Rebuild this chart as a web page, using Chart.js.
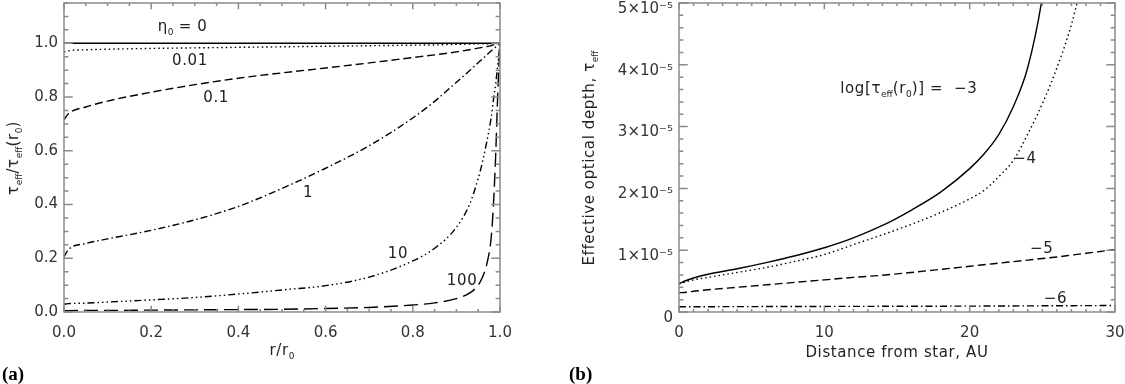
<!DOCTYPE html>
<html>
<head>
  <script src="https://cdn.jsdelivr.net/npm/chart.js"></script>
  <style>
    body { margin: 0; background: #fff; }
    #wrap { position: relative; width: 1125px; height: 384px; overflow: hidden; }
    canvas { position: absolute; top: 0; }
    .lbl { position: absolute; font: 15px 'DejaVu Sans', sans-serif; color: #222; white-space: nowrap;
           letter-spacing: 0.6px; transform: translate(-50%, -50%); line-height: 1; }
    .lbl.left { transform: translate(0, -50%); }
    .lbl.rot { transform: translate(-50%, -50%) rotate(-90deg); }
    .lbl sub { font-size: 0.6em; vertical-align: -0.45em; letter-spacing: 0; }
    .panel { position: absolute; font: bold 19px 'Liberation Serif', serif; color: #000; }
  </style>
</head>
<body>
<div id="wrap">
  <canvas id="chartA" width="560" height="384" style="left:0"></canvas>
  <canvas id="chartB" width="565" height="384" style="left:560px"></canvas>
  <div class="panel" style="left:2px; top:363px">(a)</div>
  <div class="panel" style="left:569px; top:363px">(b)</div>
</div>
<script>
  // panel (a): tau_eff / tau_eff(r0) against r/r0
  const rGrid = [0, 0.01, 0.05, 0.1, 0.2, 0.3, 0.4, 0.5, 0.6, 0.7, 0.8, 0.85, 0.9, 0.93, 0.95, 0.96, 0.97, 0.98, 0.985, 0.99, 0.995, 1.0];
  const eta0   = [1, 1, 1, 1, 1, 1, 1, 1, 1, 1, 1, 1, 1, 1, 1, 1, 1, 1, 1, 1, 1, 1];
  const eta001 = [0.967, 0.972, 0.976, 0.978, 0.981, 0.983, 0.985, 0.987, 0.989, 0.991, 0.993, 0.994, 0.996, 0.997, 0.998, 0.998, 0.998, 0.999, 0.999, 0.999, 1.0, 1.0];
  const eta01  = [0.715, 0.738, 0.763, 0.785, 0.818, 0.846, 0.870, 0.890, 0.908, 0.927, 0.947, 0.957, 0.968, 0.976, 0.982, 0.985, 0.988, 0.992, 0.994, 0.996, 0.998, 1.0];
  const eta1   = [0.205, 0.232, 0.255, 0.272, 0.304, 0.343, 0.393, 0.460, 0.535, 0.619, 0.722, 0.784, 0.855, 0.898, 0.928, 0.942, 0.957, 0.972, 0.979, 0.986, 0.993, 1.0];
  const eta10  = [0.029, 0.031, 0.033, 0.037, 0.045, 0.054, 0.067, 0.082, 0.098, 0.130, 0.190, 0.237, 0.315, 0.400, 0.497, 0.560, 0.636, 0.726, 0.790, 0.850, 0.920, 1.0];
  const eta100 = [0.005, 0.005, 0.006, 0.006, 0.007, 0.008, 0.009, 0.010, 0.013, 0.017, 0.026, 0.034, 0.050, 0.070, 0.100, 0.130, 0.180, 0.280, 0.400, 0.580, 0.820, 1.0];
  const rTicks = [0, 0.2, 0.4, 0.6, 0.8, 1.0];
  const ratioTicks = [0, 0.2, 0.4, 0.6, 0.8, 1.0];

  // panel (b): tau_eff against distance (AU)
  const dist  = [0, 0.5, 1, 2, 4, 6, 8, 10, 12, 14, 16, 18, 20, 21, 22, 23, 24, 25, 26, 27, 28, 29, 30];
  const tauM3 = [0.46e-5, 0.51e-5, 0.55e-5, 0.61e-5, 0.70e-5, 0.80e-5, 0.91e-5, 1.04e-5, 1.20e-5, 1.40e-5, 1.65e-5, 1.94e-5, 2.32e-5, 2.56e-5, 2.87e-5, 3.32e-5, 3.96e-5, 5.10e-5, 7.0e-5, null, null, null, null];
  const tauM4 = [0.45e-5, 0.49e-5, 0.52e-5, 0.56e-5, 0.64e-5, 0.72e-5, 0.82e-5, 0.93e-5, 1.09e-5, 1.25e-5, 1.42e-5, 1.61e-5, 1.83e-5, 1.97e-5, 2.19e-5, 2.45e-5, 2.88e-5, 3.37e-5, 3.95e-5, 4.65e-5, 5.6e-5, null, null];
  const tauM5 = [0.31e-5, 0.32e-5, 0.335e-5, 0.36e-5, 0.40e-5, 0.44e-5, 0.48e-5, 0.52e-5, 0.56e-5, 0.595e-5, 0.64e-5, 0.69e-5, 0.74e-5, 0.765e-5, 0.79e-5, 0.815e-5, 0.84e-5, 0.865e-5, 0.89e-5, 0.92e-5, 0.95e-5, 0.98e-5, 1.01e-5];
  const tauM6 = [0.085e-5, 0.085e-5, 0.086e-5, 0.086e-5, 0.087e-5, 0.088e-5, 0.089e-5, 0.09e-5, 0.091e-5, 0.092e-5, 0.093e-5, 0.094e-5, 0.095e-5, 0.096e-5, 0.097e-5, 0.098e-5, 0.099e-5, 0.1e-5, 0.101e-5, 0.102e-5, 0.103e-5, 0.104e-5, 0.105e-5];
  const distTicks = [0, 10, 20, 30];
  const tauTicks = [0, 1e-5, 2e-5, 3e-5, 4e-5, 5e-5];

  // curve labels, placed in data units
  const labelsA = [
    { html: '&eta;<sub>0</sub> = 0', x: 0.272, y: 1.057 },
    { html: '0.01', x: 0.289, y: 0.938 },
    { html: '0.1', x: 0.349, y: 0.80 },
    { html: '1', x: 0.56, y: 0.446 },
    { html: '10', x: 0.766, y: 0.219 },
    { html: '100', x: 0.913, y: 0.118 }
  ];
  const labelsB = [
    { html: 'log[&tau;<sub>eff</sub>(r<sub>0</sub>)] =&nbsp; &minus;3', x: 11.1, y: 3.59e-5, left: true },
    { html: '&minus;4', x: 23.8, y: 2.49e-5 },
    { html: '&minus;5', x: 24.96, y: 1.03e-5 },
    { html: '&minus;6', x: 25.9, y: 0.22e-5 }
  ];

  const solid = [], dotted = [1.5, 3], dashed = [8, 4], dashDot = [7, 3, 1.5, 3],
        dash3Dot = [7, 3, 1.5, 3, 1.5, 3, 1.5, 3], longDash = [14, 6];
  const tickFont = { family: 'DejaVu Sans', size: 15 };

  // IDL-style box with inward major/minor ticks on all four sides
  const idlFrame = {
    id: 'idlFrame',
    afterDatasetsDraw(chart, args, o) {
      const { ctx, chartArea: a, scales: { x, y } } = chart;
      ctx.save();
      ctx.strokeStyle = '#8a8a8a';
      ctx.lineWidth = 1.5;
      ctx.strokeRect(a.left, a.top, a.right - a.left, a.bottom - a.top);
      const xLen = (a.bottom - a.top) * 0.02, yLen = (a.right - a.left) * 0.02;
      ctx.beginPath();
      for (let i = 0; x.min + i * o.xStep <= x.max + 1e-9; i++) {
        const px = x.getPixelForValue(x.min + i * o.xStep);
        const L = i % o.xPer === 0 ? xLen : xLen / 2;
        ctx.moveTo(px, a.bottom); ctx.lineTo(px, a.bottom - L);
        ctx.moveTo(px, a.top); ctx.lineTo(px, a.top + L);
      }
      for (let i = 0; y.min + i * o.yStep <= y.max * (1 + 1e-9); i++) {
        const py = y.getPixelForValue(y.min + i * o.yStep);
        const L = i % o.yPer === 0 ? yLen : yLen / 2;
        ctx.moveTo(a.left, py); ctx.lineTo(a.left + L, py);
        ctx.moveTo(a.right, py); ctx.lineTo(a.right - L, py);
      }
      ctx.stroke();
      ctx.restore();
    }
  };

  function line(xs, ys, dash) {
    return {
      data: xs.map((v, i) => ({ x: v, y: ys[i] })),
      borderColor: '#000', borderWidth: 1.4, borderDash: dash,
      pointRadius: 0, cubicInterpolationMode: 'monotone', spanGaps: false
    };
  }

  function axis(min, max, tickVals, fmt, size, isX, pad, shift) {
    return {
      type: 'linear', min: min, max: max,
      grid: { display: false, drawTicks: false }, border: { display: false },
      afterBuildTicks: s => { s.ticks = tickVals.map(v => ({ value: v })); },
      afterFit: s => {
        if (isX) s.height = size; else s.width = size;
        s.paddingLeft = s.paddingRight = s.paddingTop = s.paddingBottom = 0;
      },
      ticks: { font: tickFont, color: '#333', padding: pad, autoSkip: false, maxRotation: 0,
               labelOffset: shift || 0, callback: fmt }
    };
  }

  const supMinus5 = '\u00D710\u207B\u2075';

  const chartA = new Chart(document.getElementById('chartA'), {
    type: 'line',
    data: { datasets: [
      line(rGrid, eta0, solid), line(rGrid, eta001, dotted), line(rGrid, eta01, dashed),
      line(rGrid, eta1, dashDot), line(rGrid, eta10, dash3Dot), line(rGrid, eta100, longDash)
    ] },
    options: {
      responsive: false, animation: false, devicePixelRatio: 1,
      layout: { padding: { top: 3, right: 60, left: 0, bottom: 0 } },
      plugins: { legend: { display: false }, tooltip: { enabled: false },
                 idlFrame: { xStep: 0.05, xPer: 4, yStep: 0.05, yPer: 4 } },
      scales: {
        x: axis(0, 1, rTicks, v => v.toFixed(1), 72, true, 12),
        y: axis(0, 1.15, ratioTicks, v => v.toFixed(1), 64, false, 6)
      }
    },
    plugins: [idlFrame]
  });

  const chartB = new Chart(document.getElementById('chartB'), {
    type: 'line',
    data: { datasets: [
      line(dist, tauM3, solid), line(dist, tauM4, dotted), line(dist, tauM5, dashed), line(dist, tauM6, dashDot)
    ] },
    options: {
      responsive: false, animation: false, devicePixelRatio: 1,
      layout: { padding: { top: 3, right: 10, left: 0, bottom: 0 } },
      plugins: { legend: { display: false }, tooltip: { enabled: false },
                 idlFrame: { xStep: 1, xPer: 10, yStep: 2e-6, yPer: 5 } },
      scales: {
        x: axis(0, 30, distTicks, v => String(v), 72, true, 12),
        y: axis(0, 5e-5, tauTicks, v => v === 0 ? '0' : Math.round(v / 1e-5) + supMinus5, 119, false, 6, 6)
      }
    },
    plugins: [idlFrame]
  });

  const wrap = document.getElementById('wrap');
  function addLabel(html, left, top, cls) {
    const d = document.createElement('div');
    d.className = 'lbl' + (cls ? ' ' + cls : '');
    d.innerHTML = html;
    d.style.left = left + 'px';
    d.style.top = top + 'px';
    wrap.appendChild(d);
  }

  function decorate(chart, offset, labels, yTitle, yTitleX, xTitle) {
    const a = chart.chartArea, sx = chart.scales.x, sy = chart.scales.y;
    labels.forEach(l => addLabel(l.html, offset + sx.getPixelForValue(l.x), sy.getPixelForValue(l.y), l.left ? 'left' : ''));
    addLabel(yTitle, offset + yTitleX, (a.top + a.bottom) / 2, 'rot');
    addLabel(xTitle, offset + (a.left + a.right) / 2, a.bottom + 40, '');
  }

  decorate(chartA, 0, labelsA, '&tau;<sub>eff</sub>/&tau;<sub>eff</sub>(r<sub>0</sub>)', 15, 'r/r<sub>0</sub>');
  decorate(chartB, 560, labelsB, 'Effective optical depth, &tau;<sub>eff</sub>', 31, 'Distance from star, AU');
</script>
</body>
</html>
